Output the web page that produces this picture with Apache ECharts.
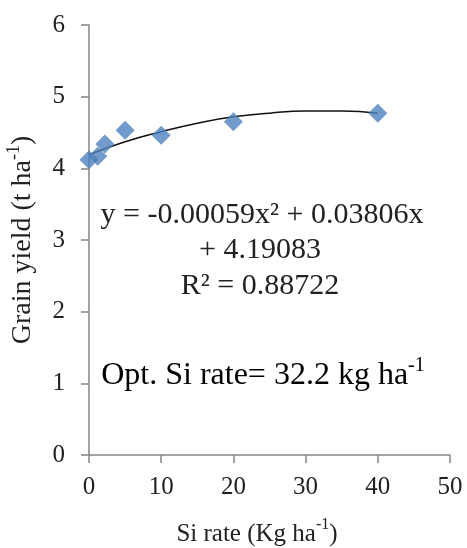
<!DOCTYPE html>
<html>
<head>
<meta charset="utf-8">
<script src="https://cdn.jsdelivr.net/npm/echarts@6/dist/echarts.min.js"></script>
<style>html,body{margin:0;padding:0;background:#fff;}#c{width:467px;height:548px;}</style>
</head>
<body>
<div id="c"></div>
<script>
// Observed data (Si rate, grain yield)
const siRate = [0, 1.2, 2.2, 5, 10, 20, 40];
const grainYield = [4.12, 4.17, 4.34, 4.53, 4.46, 4.65, 4.77];
// Polynomial trend line
const trendX = [0, 5, 10, 15, 20, 25, 30, 35, 40];
const trendY = [4.19, 4.37, 4.51, 4.63, 4.72, 4.77, 4.80, 4.80, 4.77];
const xTicks = [0, 10, 20, 30, 40, 50];
const yTicks = [0, 1, 2, 3, 4, 5, 6];
const eqLines = ['y = -0.00059x² + 0.03806x', '+ 4.19083', 'R² = 0.88722'];

const FONT = 'Liberation Serif, Times New Roman, serif';
const axisGray = '#868686';
const chart = echarts.init(document.getElementById('c'), null, {renderer: 'canvas'});
function richSet(size, supSize, lh) {
  return {
    n: {fontFamily: FONT, fontSize: size, color: '#222', lineHeight: lh, verticalAlign: 'bottom'},
    s: {fontFamily: FONT, fontSize: supSize, color: '#222', lineHeight: lh, verticalAlign: 'top'}
  };
}
chart.setOption({
  animation: false,
  grid: {left: 89, right: 17, top: 25, bottom: 93, containLabel: false, outerBoundsMode: 'none'},
  xAxis: {
    type: 'value', min: xTicks[0], max: xTicks[xTicks.length-1], interval: 10,
    splitLine: {show: false},
    axisLine: {lineStyle: {color: axisGray, width: 1.5}},
    axisTick: {show: true, length: 8, lineStyle: {color: axisGray, width: 1.5}},
    axisLabel: {fontFamily: FONT, fontSize: 25, color: '#222', margin: 20},
    name: '{n|Si rate (Kg ha}{s|-1}{n|)}',
    nameLocation: 'middle', nameGap: 62,
    nameTextStyle: {rich: richSet(25, 16, 30), padding: [0, 25, 0, 0]}
  },
  yAxis: {
    type: 'value', min: yTicks[0], max: yTicks[yTicks.length-1], interval: 1,
    splitLine: {show: false},
    axisLine: {show: true, lineStyle: {color: axisGray, width: 1.5}},
    axisTick: {show: true, length: 8, lineStyle: {color: axisGray, width: 1.5}},
    axisLabel: {fontFamily: FONT, fontSize: 25, color: '#222', margin: 24},
    name: '{n|Grain yield (t ha}{s|-1}{n|)}',
    nameLocation: 'middle', nameGap: 52,
    nameTextStyle: {rich: richSet(28, 18, 32)}
  },
  series: [
    {
      type: 'line', data: trendX.map((x, i) => [x, trendY[i]]), smooth: true,
      showSymbol: false, lineStyle: {color: '#111', width: 1.5}, z: 2, silent: true
    },
    {
      type: 'scatter', data: siRate.map((x, i) => [x, grainYield[i]]),
      symbol: 'diamond', symbolSize: [19, 19],
      itemStyle: {color: '#4F81BD'}, z: 3
    }
  ],
  graphic: [
    {type: 'text', style: {x: 262, y: 215, text: eqLines[0], font: '30px ' + FONT, fill: '#222', align: 'center', verticalAlign: 'middle'}},
    {type: 'text', style: {x: 260, y: 250, text: eqLines[1], font: '30px ' + FONT, fill: '#222', align: 'center', verticalAlign: 'middle'}},
    {type: 'text', style: {x: 260, y: 286, text: eqLines[2], font: '30px ' + FONT, fill: '#222', align: 'center', verticalAlign: 'middle'}},
    {type: 'text', style: {x: 263, y: 374, text: '{n|Opt. Si rate= 32.2 kg ha}{s|-1}', rich: richSet(32, 20, 36), align: 'center', verticalAlign: 'middle'}}
  ]
});
</script>
</body>
</html>
